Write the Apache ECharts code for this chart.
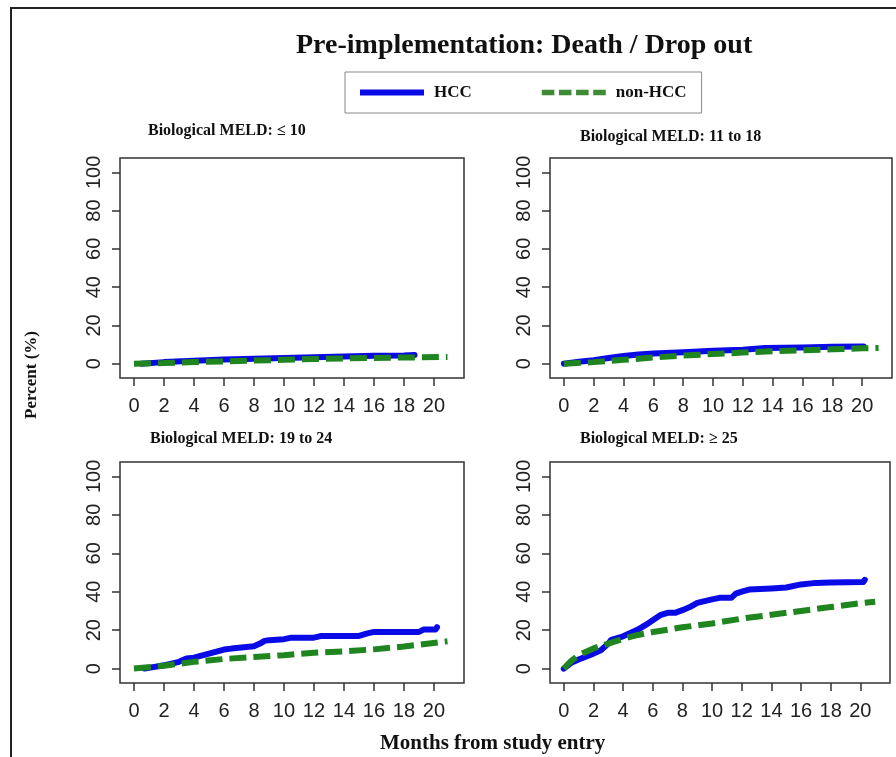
<!DOCTYPE html>
<html>
<head>
<meta charset="utf-8">
<script src="https://cdn.jsdelivr.net/npm/echarts@6/dist/echarts.min.js"></script>
<style>
  html, body { margin: 0; padding: 0; background: #fff; }
  #chart { width: 896px; height: 757px; }
</style>
</head>
<body>
<div id="chart"></div>
<script>
// tick labels
var xTicks = [0, 2, 4, 6, 8, 10, 12, 14, 16, 18, 20];
var yTicks = [0, 20, 40, 60, 80, 100];

var panelTitles = ['Biological MELD: \u2264 10', 'Biological MELD: 11 to 18',
                   'Biological MELD: 19 to 24', 'Biological MELD: \u2265 25'];

// [month, percent]
var hccMeld10 = [[0.5, 0], [2, 0.8], [4, 1.5], [6, 2.2], [8, 2.6], [10, 3], [12, 3.4],
                 [14, 3.8], [16, 4.1], [18, 4.3], [18.7, 4.5]];
var nonHccMeld10 = [[0, 0], [2, 0.3], [4, 0.8], [6, 1.2], [8, 1.6], [10, 2], [12, 2.4],
                    [14, 2.7], [16, 3], [18, 3.2], [20.9, 3.5]];

var hccMeld18 = [[0, 0], [1, 1], [2, 1.8], [3, 3], [4, 4], [5, 4.8], [6, 5.3], [8, 6],
                 [10, 6.8], [12, 7.3], [13.5, 8.2], [16, 8.4], [18, 8.8], [20.1, 9]];
var nonHccMeld18 = [[0, 0], [2, 0.8], [4, 2], [6, 3.2], [8, 4.2], [10, 5], [12, 5.8],
                    [14, 6.5], [16, 7], [18, 7.5], [20, 8], [21.1, 8.2]];

var hccMeld24 = [[0.7, 0], [2, 1.7], [3, 3.5], [3.5, 5.2], [4, 5.7], [5, 7.8], [6, 9.9],
                 [6.5, 10.4], [7, 10.8], [8, 11.6], [8.4, 13], [8.7, 14.4], [9, 14.8],
                 [10, 15.3], [10.5, 16.1], [12, 16.1], [12.5, 17], [15, 17], [15.5, 18.2],
                 [16, 19.1], [19, 19.1], [19.3, 20.3], [20.1, 20.3], [20.2, 21.5]];
var nonHccMeld24 = [[0, 0], [2, 1.5], [4, 3.5], [6, 5], [8, 6], [10, 7], [12, 8.2],
                    [14, 9], [16, 10], [18, 11.5], [20.9, 14.2]];

var hccMeld25 = [[0, 0], [0.5, 3], [1, 4.7], [2, 7.8], [2.5, 9.5], [3, 13], [3.2, 15],
                 [4, 16.8], [5, 20.3], [5.5, 22.6], [6, 25.2], [6.5, 27.8], [7, 29],
                 [7.5, 29], [8, 30.4], [8.5, 32], [9, 34.2], [10, 36], [10.5, 36.8],
                 [11.3, 36.8], [11.6, 39], [12, 40], [12.5, 41.1], [14, 41.7], [15, 42.2],
                 [16, 43.8], [17, 44.6], [18, 44.8], [20.2, 45.1], [20.3, 46.2]];
var nonHccMeld25 = [[0, 0], [0.5, 4], [1, 7], [2, 10.5], [3, 13], [4, 15.5], [5, 17.5],
                    [6, 19], [8, 21.5], [10, 23.5], [12, 26], [14, 28], [16, 30],
                    [18, 32], [20, 34], [21, 34.8]];

var hccSeries = [hccMeld10, hccMeld18, hccMeld24, hccMeld25];
var nonHccSeries = [nonHccMeld10, nonHccMeld18, nonHccMeld24, nonHccMeld25];

var blue = '#0a0ae6';
var green = '#1f861f';
var serif = 'Liberation Serif';

var grids = [
  { left: 120, top: 158, width: 344, height: 220 },
  { left: 550, top: 158, width: 342, height: 220 },
  { left: 120, top: 462, width: 344, height: 221 },
  { left: 550, top: 462, width: 340, height: 221 }
];
grids.forEach(function (g) {
  g.show = true;
  g.borderColor = '#333';
  g.borderWidth = 1.5;
  g.backgroundColor = '#fff';
});

var xAxes = [], yAxes = [], series = [];
for (var i = 0; i < 4; i++) {
  xAxes.push({
    type: 'value', gridIndex: i, min: -0.93, max: 22,
    axisLine: { show: false, onZero: false },
    splitLine: { show: false },
    axisTick: { show: true, length: 8, customValues: xTicks, lineStyle: { color: '#333', width: 1.5 } },
    axisLabel: { customValues: xTicks, fontSize: 20, fontFamily: 'Liberation Sans', color: '#222', margin: 18 }
  });
  yAxes.push({
    type: 'value', gridIndex: i, min: -7.5, max: 107.5,
    axisLine: { show: false, onZero: false },
    splitLine: { show: false },
    axisTick: { show: true, length: 8, customValues: yTicks, lineStyle: { color: '#333', width: 1.5 } },
    axisLabel: { customValues: yTicks, rotate: 90, fontSize: 20, fontFamily: 'Liberation Sans', color: '#222', margin: 16 }
  });
  series.push({
    name: 'HCC', type: 'line', xAxisIndex: i, yAxisIndex: i,
    data: hccSeries[i], symbol: 'none', silent: true,
    lineStyle: { color: blue, width: 6, cap: 'round', join: 'round' },
    itemStyle: { color: blue }
  });
  series.push({
    name: 'non-HCC', type: 'line', xAxisIndex: i, yAxisIndex: i,
    data: nonHccSeries[i], symbol: 'none', silent: true,
    lineStyle: { color: green, width: 6, type: [17, 7] },
    itemStyle: { color: green }
  });
}

var subTitlePos = [[148, 123], [580, 129], [150, 431], [580, 431]];
var titles = [{
  text: 'Pre-implementation: Death / Drop out',
  left: 296, top: 32, padding: 0,
  textStyle: { fontFamily: serif, fontWeight: 'bold', fontSize: 28, color: '#111' }
}];
panelTitles.forEach(function (t, k) {
  titles.push({
    text: t, left: subTitlePos[k][0], top: subTitlePos[k][1], padding: 0,
    textStyle: { fontFamily: serif, fontWeight: 'bold', fontSize: 16, color: '#111' }
  });
});
titles.push({
  text: 'Months from study entry', left: 380, top: 733, padding: 0,
  textStyle: { fontFamily: serif, fontWeight: 'bold', fontSize: 21, color: '#111' }
});

var dashIcon = 'path://M0,0h11v5h-11z M15,0h11v5h-11z M30,0h11v5h-11z M45,0h11v5h-11z';

var chart = echarts.init(document.getElementById('chart'));
chart.setOption({
  animation: false,
  backgroundColor: '#fff',
  title: titles,
  legend: {
    left: 345, top: 72,
    padding: [12, 15, 12, 15],
    borderColor: '#888', borderWidth: 1,
    itemWidth: 64, itemHeight: 6, itemGap: 70,
    textStyle: { fontFamily: serif, fontWeight: 'bold', fontSize: 17, color: '#111', padding: [0, 0, 0, 5] },
    data: [
      { name: 'HCC', icon: 'rect', itemStyle: { color: blue } },
      { name: 'non-HCC', icon: dashIcon, itemStyle: { color: '#3f8a35' } }
    ]
  },
  grid: grids,
  xAxis: xAxes,
  yAxis: yAxes,
  series: series,
  graphic: [
    { type: 'polyline', silent: true, shape: { points: [[11, 757], [11, 8], [896, 8]] },
      style: { stroke: '#222', lineWidth: 2, fill: null } },
    { type: 'text', x: 32, y: 375, rotation: Math.PI / 2, silent: true,
      style: { text: 'Percent (%)', font: 'bold 17px "Liberation Serif"', fill: '#111',
               textAlign: 'center', textVerticalAlign: 'middle' } }
  ]
});
</script>
</body>
</html>
